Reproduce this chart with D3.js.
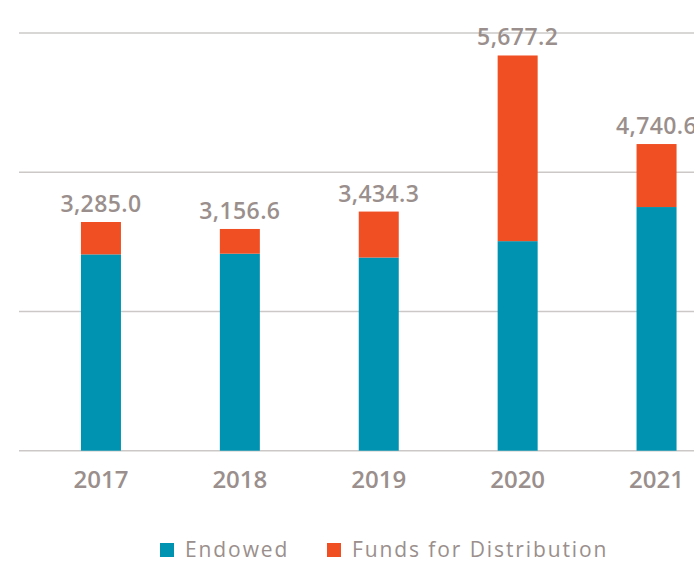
<!DOCTYPE html>
<html>
<head>
<meta charset="utf-8">
<script src="https://cdn.jsdelivr.net/npm/d3@7"></script>
<style>
  body { margin: 0; background: #fff; }
  svg text { font-family: "Open Sans", sans-serif; fill: #9a8f8c; }
</style>
</head>
<body>
<svg width="694" height="561"></svg>
<script>
var years = ["2017", "2018", "2019", "2020", "2021"];
var endowed = [2820, 2830, 2775, 3010, 3500];
var funds = [465, 355, 660, 2667, 905];
var totalLabels = ["3,285.0", "3,156.6", "3,434.3", "5,677.2", "4,740.6"];
var gridTicks = [0, 2000, 4000, 6000];
var seriesNames = ["Endowed", "Funds for Distribution"];

var colors = ["#0093b1", "#f04e23"];

var svg = d3.select("svg");

var x = d3.scaleBand()
    .domain(years)
    .range([31.5, 726])
    .paddingInner(0.712)
    .paddingOuter(0.356);

var y = d3.scaleLinear()
    .domain([0, 6000])
    .range([450.7, 33]);

// gridlines
svg.append("g")
  .selectAll("line")
  .data(gridTicks)
  .enter().append("line")
    .attr("x1", 19)
    .attr("x2", 694)
    .attr("y1", function(d){ return y(d); })
    .attr("y2", function(d){ return y(d); })
    .attr("stroke", "#cdc8c8")
    .attr("stroke-width", 1.5);

var rows = years.map(function(yr, i){
  return { year: yr, endowed: endowed[i], funds: funds[i], label: totalLabels[i] };
});

var stack = d3.stack().keys(["endowed", "funds"]);
var layers = stack(rows);

svg.append("g")
  .selectAll("g")
  .data(layers)
  .enter().append("g")
    .attr("fill", function(d, i){ return colors[i]; })
  .selectAll("rect")
  .data(function(d){ return d; })
  .enter().append("rect")
    .attr("x", function(d){ return x(d.data.year); })
    .attr("width", x.bandwidth())
    .attr("y", function(d){ return y(d[1]); })
    .attr("height", function(d){ return y(d[0]) - y(d[1]); });

// total labels
svg.append("g")
  .selectAll("text")
  .data(rows)
  .enter().append("text")
    .attr("x", function(d){ return x(d.year) + x.bandwidth() / 2; })
    .attr("y", function(d){ return y(d.endowed + d.funds) - 10; })
    .attr("text-anchor", "middle")
    .style("font-size", "23px")
    .style("font-weight", 600)
    .style("letter-spacing", "0.4px")
    .text(function(d){ return d.label; });

// year axis labels
svg.append("g")
  .selectAll("text")
  .data(years)
  .enter().append("text")
    .attr("x", function(d){ return x(d) + x.bandwidth() / 2; })
    .attr("y", 488)
    .attr("text-anchor", "middle")
    .style("font-size", "24px")
    .style("font-weight", 600)
    .text(function(d){ return d; });

// legend
var legendX = [160, 327];
var legend = svg.append("g")
  .selectAll("g")
  .data(seriesNames)
  .enter().append("g")
    .attr("transform", function(d, i){ return "translate(" + legendX[i] + ",543)"; });

legend.append("rect")
    .attr("width", 14)
    .attr("height", 14)
    .attr("fill", function(d, i){ return colors[i]; });

legend.append("text")
    .attr("x", 25)
    .attr("y", 14)
    .style("font-size", "21px")
    .style("letter-spacing", "1.9px")
    .text(function(d){ return d; });
</script>
</body>
</html>
